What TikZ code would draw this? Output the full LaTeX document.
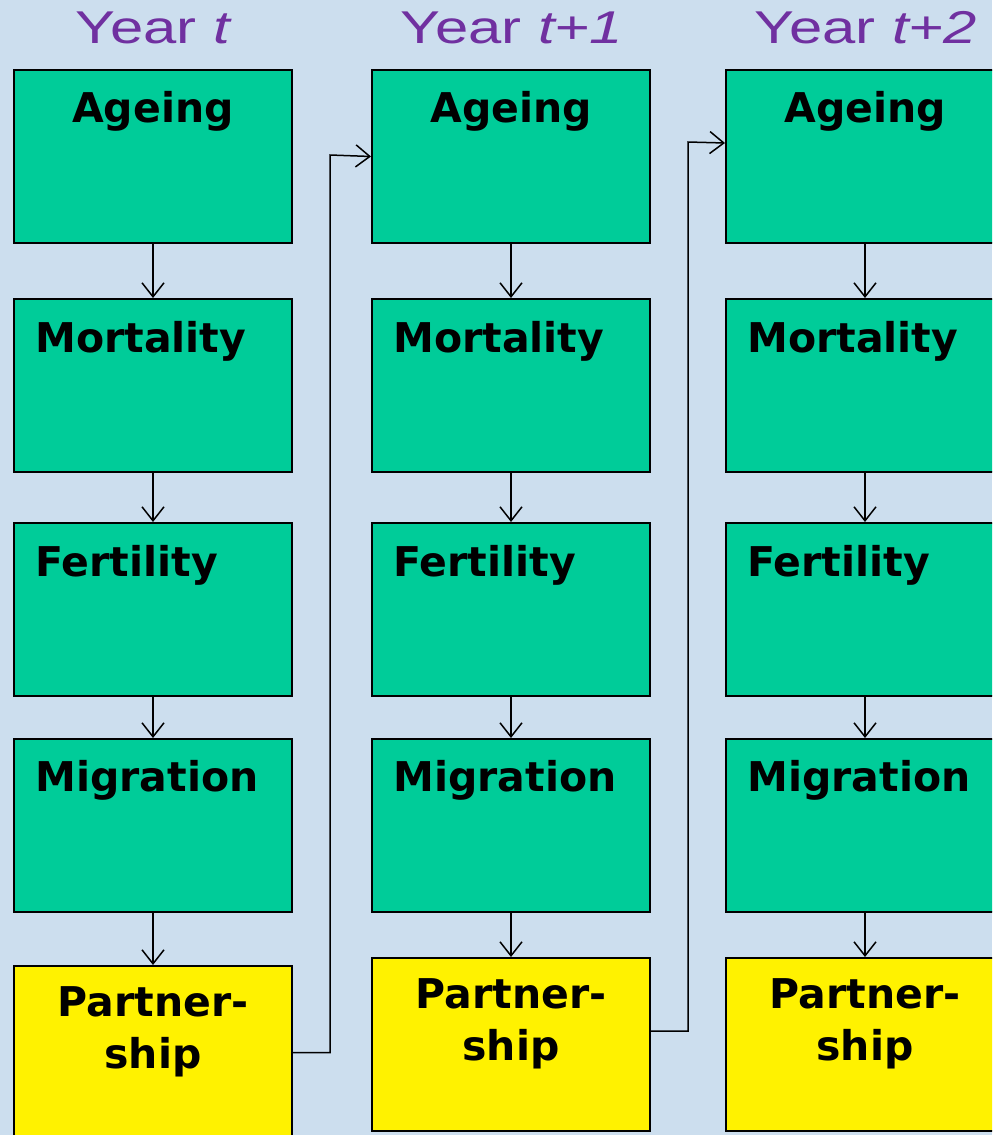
\documentclass[tikz,border=0pt]{standalone}
\usepackage{fontspec}
\setmainfont{Liberation Sans}
\newfontfamily\stagefont{DejaVu Sans}
\usetikzlibrary{arrows.meta,calc}
\definecolor{sheet}{RGB}{204,222,238}
\definecolor{stagegreen}{RGB}{0,204,153}
\definecolor{yearpurple}{RGB}{112,48,160}
\tikzset{
    stagebox/.style={rectangle, draw=black, line width=1pt, fill=stagegreen,
        minimum width=139pt, minimum height=86.5pt, anchor=north west, inner sep=0pt},
    partnerbox/.style={stagebox, fill=yellow},
    stagetext/.style={font=\stagefont\bfseries\fontsize{20.5}{26}\selectfont, inner sep=0pt},
    yeartext/.style={font=\fontsize{23}{28}\selectfont, text=yearpurple, inner sep=0pt, anchor=base},
    flow/.style={line width=0.75pt, -{Straight Barb[length=7pt,width=11pt]}}
}
\begin{document}
\begin{tikzpicture}[x=0.5pt,y=-0.5pt]
    \useasboundingbox (0,0) rectangle (992,1135);
    \clip (0,0) rectangle (992,1135);
    \fill[sheet] (0,0) rectangle (992,1135);
    \foreach[count=\c] \x/\p/\yr in {13/965/{t},371/957/{t+1},725/957/{t+2}}
    {
        \node[yeartext] (y\c) at (\x+141,43) {\scalebox{1.3}[1]{Year \textit{\yr}}};
        \node[stagebox] (a\c) at (\x,69) {};
        \node[stagebox] (m\c) at (\x,298) {};
        \node[stagebox] (f\c) at (\x,522) {};
        \node[stagebox] (g\c) at (\x,738) {};
        \node[partnerbox] (p\c) at (\x,\p) {};
        \node[stagetext, anchor=base] (ta\c) at ($(a\c.north)+(0,53)$) {Ageing};
        \node[stagetext, anchor=base west] (tm\c) at ($(m\c.north west)+(22,54)$) {Mortality};
        \node[stagetext, anchor=base west] (tf\c) at ($(f\c.north west)+(22,54)$) {Fertility};
        \node[stagetext, anchor=base west] (tg\c) at ($(g\c.north west)+(22,53)$) {Migration};
        \node[stagetext, align=center, anchor=base] (tp\c) at ($(p\c.north)+(0,103)$) {Partner-\\ship};
        \draw[flow] (a\c) -- (m\c);
        \draw[flow] (m\c) -- (f\c);
        \draw[flow] (f\c) -- (g\c);
        \draw[flow] (g\c) -- (p\c);
    }
    % year to year
    \coordinate (k1) at (330,155);
    \coordinate (k2) at (688,142);
    \draw[flow] (p1.east) -| (k1) -- (a2.west);
    \draw[flow] ([yshift=6.75pt]p2.east) -| (k2) -- ([yshift=6.75pt]a3.west);
\end{tikzpicture}
\end{document}
